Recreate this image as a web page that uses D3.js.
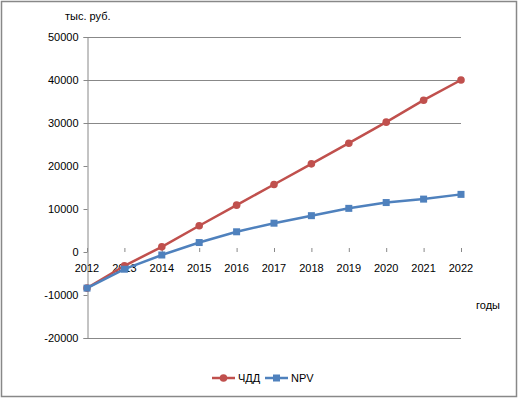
<!DOCTYPE html>
<html>
<head>
<meta charset="utf-8">
<script src="https://cdn.jsdelivr.net/npm/d3@7"></script>
<style>
  body { margin: 0; background: #fff; }
  text { font-family: "Liberation Sans", Arial, sans-serif; font-size: 11px; fill: #000; }
</style>
</head>
<body>
<svg id="chart" width="518" height="399"></svg>
<script>
// data
const years = [2012, 2013, 2014, 2015, 2016, 2017, 2018, 2019, 2020, 2021, 2022];
const chdd = [-8400, -3200, 1200, 6100, 10900, 15700, 20500, 25300, 30200, 35300, 40000];
const npv = [-8400, -4000, -700, 2200, 4700, 6700, 8450, 10150, 11500, 12300, 13400];
const yTicks = [-20000, -10000, 0, 10000, 20000, 30000, 40000, 50000];
const gridTicks = [30000, 40000, 50000];

const svg = d3.select('#chart');
const width = +svg.attr('width');
const height = +svg.attr('height');

// outer frame
svg.append('rect')
  .attr('x', 1.5).attr('y', 1.5)
  .attr('width', width - 3).attr('height', height - 4)
  .attr('fill', 'none')
  .attr('stroke', '#888')
  .attr('stroke-width', 1.5);

const x = d3.scaleLinear().domain([2012, 2022]).range([87, 461]);
const y = d3.scaleLinear().domain([-20000, 50000]).range([338, 37]);

// gridlines (only the upper ones show in the original) and bottom border
svg.append('g')
  .selectAll('line')
  .data(gridTicks.concat([-20000]))
  .join('line')
  .attr('x1', x(2012)).attr('x2', x(2022))
  .attr('y1', d => Math.round(y(d)) + 0.5)
  .attr('y2', d => Math.round(y(d)) + 0.5)
  .attr('stroke', '#888');

// y axis
const yAxis = svg.append('g')
  .attr('transform', `translate(${x(2012) + 0.5},0)`)
  .call(d3.axisLeft(y).tickValues(yTicks).tickSize(4).tickPadding(5).tickFormat(d => String(d)));
yAxis.select('.domain').attr('stroke', '#888');
yAxis.selectAll('.tick line').attr('stroke', '#888');
yAxis.selectAll('text').style('font-family', '"Liberation Sans", Arial, sans-serif').style('font-size', '11px');

// x ticks at zero, no axis line
const xAxis = svg.append('g')
  .attr('transform', `translate(0,${Math.round(y(0))})`)
  .call(d3.axisTop(x).tickValues(years).tickSize(4).tickFormat(''));
xAxis.select('.domain').remove();
xAxis.selectAll('.tick line').attr('stroke', '#888');

svg.append('g')
  .selectAll('text')
  .data(years)
  .join('text')
  .attr('x', d => x(d))
  .attr('y', y(0) + 20)
  .attr('text-anchor', 'middle')
  .text(d => d);

// axis titles
svg.append('text').attr('x', 65).attr('y', 20).text('тыс. руб.');
svg.append('text').attr('x', 476).attr('y', 309).text('годы');

const line = d3.line().x((d, i) => x(years[i])).y(d => y(d));

const series = [
  { name: 'ЧДД', values: chdd, color: '#C0504D', marker: 'circle' },
  { name: 'NPV', values: npv, color: '#4F81BD', marker: 'square' }
];

function drawMarker(g, type, color, cx, cy) {
  if (type === 'circle') {
    g.append('circle').attr('cx', cx).attr('cy', cy).attr('r', 3.8).attr('fill', color);
  } else {
    g.append('rect').attr('x', cx - 3.5).attr('y', cy - 3.5).attr('width', 7).attr('height', 7).attr('fill', color);
  }
}

series.forEach(s => {
  const g = svg.append('g');
  g.append('path')
    .datum(s.values)
    .attr('d', line)
    .attr('fill', 'none')
    .attr('stroke', s.color)
    .attr('stroke-width', 2.5);
  s.values.forEach((v, i) => drawMarker(g, s.marker, s.color, x(years[i]), y(v)));
});

// legend
const legendX = [212, 265];
series.forEach((s, i) => {
  const g = svg.append('g');
  const lx = legendX[i];
  g.append('line')
    .attr('x1', lx).attr('x2', lx + 23)
    .attr('y1', 378).attr('y2', 378)
    .attr('stroke', s.color).attr('stroke-width', 2.5);
  drawMarker(g, s.marker, s.color, lx + 11.5, 378);
  g.append('text').attr('x', lx + 26).attr('y', 382).text(s.name);
});
</script>
</body>
</html>
